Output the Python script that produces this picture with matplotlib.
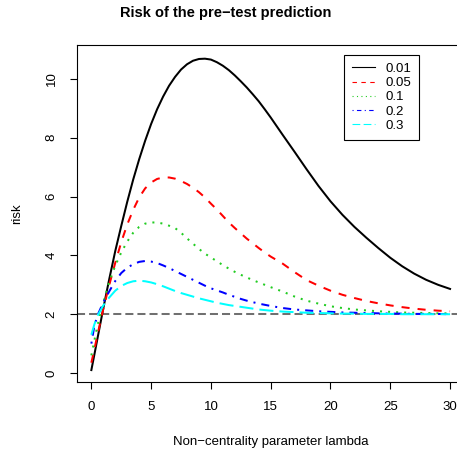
import matplotlib
matplotlib.use("Agg")
import matplotlib.pyplot as plt

plt.rcParams['font.family'] = ['Liberation Sans', 'DejaVu Sans']

# lambda values the curves were read at
lam = [0, 0.25, 0.5, 1, 1.5, 2, 2.5, 3, 3.5, 4, 4.5, 5, 5.5, 6, 6.5, 7, 7.5,
       8, 8.5, 9, 9.5, 10, 10.5, 11, 11.5, 12, 12.5, 13, 13.5, 14, 14.5, 15,
       16, 17, 18, 19, 20, 21, 22, 23, 24, 25, 26, 27, 28, 29, 30]

# risk, one list per alpha
risk_001 = [0.1, 0.62, 1.15, 2.2, 3.2, 4.15, 5.0, 5.82, 6.58, 7.27, 7.9, 8.47,
            8.97, 9.4, 9.77, 10.07, 10.32, 10.5, 10.62, 10.68, 10.69, 10.66,
            10.57, 10.45, 10.3, 10.12, 9.92, 9.71, 9.48, 9.24, 8.97, 8.69,
            8.1, 7.52, 6.93, 6.36, 5.84, 5.38, 4.97, 4.6, 4.25, 3.92, 3.63,
            3.38, 3.17, 3.0, 2.86]
risk_005 = [0.35, 0.8, 1.28, 2.18, 3.0, 3.75, 4.45, 5.05, 5.55, 5.97, 6.28,
            6.48, 6.6, 6.65, 6.65, 6.61, 6.53, 6.43, 6.3, 6.15, 5.97, 5.76,
            5.56, 5.34, 5.12, 4.93, 4.75, 4.57, 4.41, 4.25, 4.1, 3.96, 3.72,
            3.43, 3.16, 2.97, 2.8, 2.66, 2.55, 2.45, 2.37, 2.3, 2.24, 2.19,
            2.15, 2.12, 2.1]
risk_01 = [0.6, 1.1, 1.6, 2.4, 3.1, 3.65, 4.1, 4.47, 4.77, 4.97, 5.08, 5.12,
           5.12, 5.08, 5.01, 4.93, 4.77, 4.58, 4.4, 4.22, 4.06, 3.93, 3.8,
           3.67, 3.55, 3.44, 3.34, 3.25, 3.16, 3.08, 3.0, 2.92, 2.77, 2.6,
           2.46, 2.36, 2.27, 2.21, 2.16, 2.13, 2.1, 2.08, 2.06, 2.05, 2.04,
           2.03, 2.03]
risk_02 = [1.0, 1.6, 1.95, 2.4, 2.78, 3.13, 3.4, 3.58, 3.7, 3.78, 3.81, 3.79,
           3.74, 3.66, 3.57, 3.47, 3.37, 3.27, 3.17, 3.07, 2.97, 2.88, 2.81,
           2.74, 2.66, 2.59, 2.52, 2.46, 2.41, 2.36, 2.32, 2.28, 2.21, 2.16,
           2.13, 2.1, 2.08, 2.06, 2.05, 2.04, 2.03, 2.02, 2.02, 2.01, 2.01,
           2.01, 2.0]
risk_03 = [1.3, 1.65, 1.93, 2.3, 2.57, 2.8, 2.96, 3.06, 3.12, 3.14, 3.12,
           3.08, 3.02, 2.95, 2.87, 2.79, 2.72, 2.66, 2.6, 2.54, 2.49, 2.44,
           2.39, 2.35, 2.31, 2.28, 2.25, 2.22, 2.19, 2.16, 2.14, 2.12, 2.09,
           2.07, 2.05, 2.04, 2.03, 2.02, 2.02, 2.01, 2.01, 2.01, 2.0, 2.0,
           2.0, 2.0, 2.0]

labels = ["0.01", "0.05", "0.1", "0.2", "0.3"]
baseline = 2

fig = plt.figure(figsize=(4.57, 4.53), dpi=100)
ax = fig.add_axes([0.1685, 0.1567, 0.8477, 0.744])

lw = 1.45
ax.plot(lam, risk_001, color="black", lw=lw, label=labels[0])
ax.plot(lam, risk_005, color="red", lw=lw, dashes=(4, 4), label=labels[1])
ax.plot(lam, risk_01, color="#22cc22", lw=lw, dashes=(1, 3), label=labels[2])
ax.plot(lam, risk_02, color="blue", lw=lw, dashes=(1, 3, 4, 3), label=labels[3])
ax.plot(lam, risk_03, color="cyan", lw=lw, dashes=(7, 3), label=labels[4])
ax.axhline(baseline, color="#707070", lw=lw, dashes=(4, 2), zorder=0)

ax.set_xlim(-1.2, 31.2)
ax.set_ylim(-0.306, 11.156)
ax.set_xticks([0, 5, 10, 15, 20, 25, 30])
ax.set_yticks([0, 2, 4, 6, 8, 10])
ax.set_yticklabels(["0", "2", "4", "6", "8", "10"], rotation=90, va="center")
ax.tick_params(labelsize=9.5, length=5, width=0.8, pad=9)
for s in ax.spines.values():
    s.set_linewidth(0.8)

ax.set_xlabel("Non\u2212centrality parameter lambda", fontsize=9.5, labelpad=16)
ax.set_ylabel("risk", fontsize=9.5, labelpad=16)
fig.text(0.494, 0.972, "Risk of the pre\u2212test prediction", ha="center",
         va="center", fontsize=10.5, fontweight="bold")

leg = ax.legend(loc="upper left", bbox_to_anchor=(0.753, 0.879),
                bbox_transform=fig.transFigure, fontsize=9.5, frameon=True,
                fancybox=False, edgecolor="black", framealpha=1,
                borderaxespad=0, handlelength=1.75, handletextpad=0.8,
                labelspacing=0.15, borderpad=0.6)
leg.get_frame().set_linewidth(0.8)
for line in leg.get_lines():
    line.set_linewidth(0.8)

fig.savefig("out.png", dpi=100)
